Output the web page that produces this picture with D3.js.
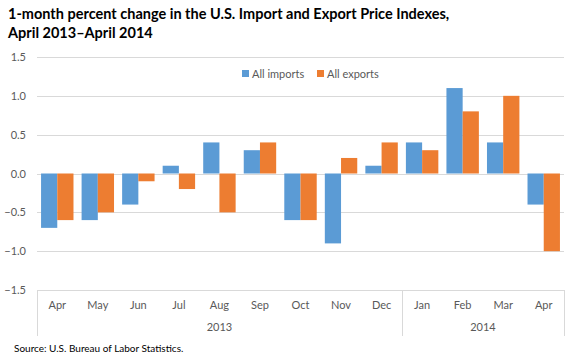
<!DOCTYPE html>
<html><head><meta charset="utf-8">
<script src="https://cdn.jsdelivr.net/npm/d3@7"></script>
<style>body{margin:0;background:#fff}svg{display:block}text{font-family:Lato,"Open Sans",sans-serif}</style>
</head><body>
<svg id="c" width="580" height="360"></svg>
<script>
const months = ["Apr","May","Jun","Jul","Aug","Sep","Oct","Nov","Dec","Jan","Feb","Mar","Apr"];
const years = [{label:"2013", from:0, to:9},{label:"2014", from:9, to:13}];
const imports = [-0.7,-0.6,-0.4,0.1,0.4,0.3,-0.6,-0.9,0.1,0.4,1.1,0.4,-0.4];
const exports_ = [-0.6,-0.5,-0.1,-0.2,-0.5,0.4,-0.6,0.2,0.4,0.3,0.8,1.0,-1.0];
const yTicks = [-1.5,-1.0,-0.5,0.0,0.5,1.0,1.5];
const seriesNames = ["All imports","All exports"];
const colors = ["#5B9BD5","#ED7D31"];

(function(){
const svg = d3.select("#c");
const pL = 37, pR = 564, pT = 57, pB = 290;
const idx = months.map((m,i)=>i);
const x = d3.scaleBand().domain(idx).range([pL,pR]).paddingInner(0.2).paddingOuter(0.1);
const xs = d3.scaleBand().domain([0,1]).range([0,x.bandwidth()]);
const y = d3.scaleLinear().domain([-1.5,1.5]).range([pB,pT]);

svg.append("text").attr("x",8).attr("y",19).attr("font-weight","bold").attr("font-size",14.5).attr("fill","#000")
  .text("1-month percent change in the U.S. Import and Export Price Indexes,");
svg.append("text").attr("x",8).attr("y",38).attr("font-weight","bold").attr("font-size",14.5).attr("fill","#000")
  .text("April 2013\u2013April 2014");

svg.append("g").selectAll("line").data(yTicks).join("line")
  .attr("x1",pL).attr("x2",pR).attr("y1",d=>Math.round(y(d))+0.5).attr("y2",d=>Math.round(y(d))+0.5)
  .attr("stroke","#d9d9d9").attr("stroke-width",1);

svg.append("g").selectAll("text").data(yTicks).join("text")
  .attr("x",26).attr("y",d=>y(d)+4).attr("text-anchor","end").attr("font-size",11).attr("fill","#595959")
  .text(d=>d3.format(".1f")(d));

const sers = [imports, exports_];
sers.forEach((s,k)=>{
  svg.append("g").selectAll("rect").data(s).join("rect")
    .attr("x",(d,i)=>x(i)+xs(k)).attr("width",xs.bandwidth())
    .attr("y",d=>y(Math.max(0,d))).attr("height",d=>Math.abs(y(d)-y(0)))
    .attr("fill",colors[k]);
});

const mid = (x(8)+x.bandwidth()+x(9))/2;
const sepX = [pL, mid, pR];
svg.append("g").selectAll("line").data(sepX).join("line")
  .attr("x1",d=>Math.round(d)+0.5).attr("x2",d=>Math.round(d)+0.5).attr("y1",pB).attr("y2",336)
  .attr("stroke","#d9d9d9");

svg.append("g").selectAll("text").data(months).join("text")
  .attr("x",(d,i)=>x(i)+x.bandwidth()/2).attr("y",309).attr("text-anchor","middle")
  .attr("font-size",11).attr("fill","#595959").text(d=>d);

const yrX = (yr)=>{
  const a = yr.from===0? pL : mid;
  const b = yr.to===13? pR : mid;
  return (a+b)/2;
};
svg.append("g").selectAll("text").data(years).join("text")
  .attr("x",d=>yrX(d)).attr("y",331).attr("text-anchor","middle")
  .attr("font-size",11).attr("fill","#595959").text(d=>d.label);

const legX = [242, 317];
seriesNames.forEach((n,k)=>{
  svg.append("rect").attr("x",legX[k]).attr("y",70).attr("width",7).attr("height",7).attr("fill",colors[k]);
  svg.append("text").attr("x",legX[k]+10).attr("y",77.5).attr("font-size",11).attr("fill","#595959").text(n);
});

svg.append("text").attr("x",14).attr("y",352).attr("font-size",10).attr("fill","#000")
  .text("Source: U.S. Bureau of Labor Statistics.");
})();
</script>
</body></html>
